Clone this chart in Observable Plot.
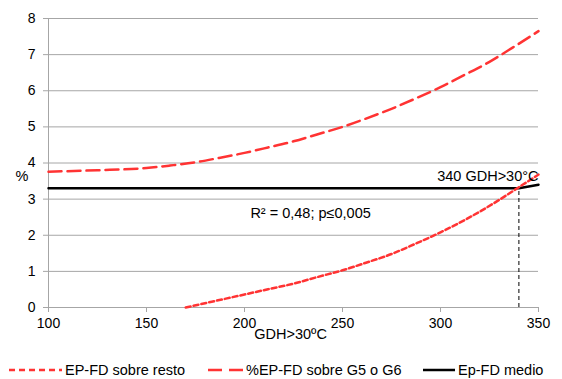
<!DOCTYPE html>
<html>
<head>
<meta charset="utf-8">
<script src="https://cdn.jsdelivr.net/npm/d3@7"></script>
<script src="https://cdn.jsdelivr.net/npm/@observablehq/plot@0.6"></script>
<style>
  html, body { margin: 0; padding: 0; background: #fff; }
  body { width: 562px; font-family: "Liberation Sans", Arial, sans-serif; }
  #legend { position: relative; height: 29px; font-size: 14.5px; color: #000; }
  .item { position: absolute; top: 0; height: 29px; display: flex; align-items: center; padding-top: 10px; box-sizing: border-box; }
  .item svg { display: block; margin-right: 3px; }
</style>
</head>
<body>
<div id="chart"></div>
<div id="legend"></div>
<script>
// Axis ticks
const xTicks = [100, 150, 200, 250, 300, 350];
const yTicks = [0, 1, 2, 3, 4, 5, 6, 7, 8];

// EP-FD sobre resto
const restoX = [170, 185, 200, 212, 225, 237, 250, 262, 275, 287, 300, 315, 330, 340, 350];
const restoY = [0.0, 0.18, 0.36, 0.505, 0.66, 0.84, 1.03, 1.24, 1.48, 1.76, 2.08, 2.5, 2.98, 3.33, 3.68];

// %EP-FD sobre G5 o G6
const g56X = [100, 125, 150, 162, 175, 187, 200, 212, 225, 237, 250, 262, 275, 287, 300, 312, 325, 337, 350];
const g56Y = [3.76, 3.8, 3.86, 3.93, 4.02, 4.14, 4.28, 4.43, 4.6, 4.79, 5.0, 5.23, 5.5, 5.78, 6.1, 6.43, 6.8, 7.2, 7.65];

// Ep-FD medio
const medioX = [100, 340, 350];
const medioY = [3.3, 3.3, 3.4];

// Threshold where the resto curve reaches the mean
const umbral = 340;
const umbralY = 3.33;

const labels = {
  x: "GDH>30ºC",
  y: "%",
  umbral: "340 GDH>30°C",
  ajuste: "R² = 0,48; p≤0,005",
  resto: "EP-FD sobre resto",
  g56: "%EP-FD sobre G5 o G6",
  medio: "Ep-FD medio"
};

const red = "#ff3333";
const grid = "#a6a6a6";
const font = "'Liberation Sans', Arial, sans-serif";

const resto = restoX.map((x, i) => ({x, y: restoY[i]}));
const g56 = g56X.map((x, i) => ({x, y: g56Y[i]}));
const medio = medioX.map((x, i) => ({x, y: medioY[i]}));

const chart = Plot.plot({
  width: 562,
  height: 350,
  marginLeft: 48,
  marginRight: 24,
  marginTop: 18,
  marginBottom: 43,
  style: { fontFamily: font, fontSize: "14px", color: "#000", background: "#fff" },
  x: { domain: [100, 350], ticks: xTicks },
  y: { domain: [0, 8], ticks: yTicks },
  marks: [
    Plot.gridY(yTicks, { stroke: grid, strokeOpacity: 1, strokeWidth: 1 }),
    Plot.ruleX([100], { y1: 0, y2: 8, stroke: grid, strokeWidth: 1 }),
    Plot.axisY({ ticks: yTicks, tickSize: 5, tickPadding: 8, stroke: grid, fill: "#000", label: null, fontSize: 14 }),
    Plot.axisX({ ticks: xTicks, tickSize: 5, tickPadding: 6, stroke: grid, fill: "#000", label: null, fontSize: 14 }),
    Plot.text([labels.x], { x: 223.5, frameAnchor: "bottom", dy: 31, text: d => d, textAnchor: "middle", fontSize: 14.5, fill: "#000" }),
    Plot.text([labels.y], { y: 3.63, frameAnchor: "left", dx: -33, text: d => d, textAnchor: "start", fontSize: 14.5, fill: "#000" }),
    Plot.ruleX([umbral], { y1: 0, y2: umbralY, stroke: "#000", strokeWidth: 1, strokeDasharray: "4,3" }),
    Plot.line(medio, { x: "x", y: "y", stroke: "#000", strokeWidth: 2.5 }),
    Plot.line(g56, { x: "x", y: "y", curve: "monotone-x", stroke: red, strokeWidth: 2.5, strokeDasharray: "13,6" }),
    Plot.line(resto, { x: "x", y: "y", curve: "monotone-x", stroke: red, strokeWidth: 2.5, strokeDasharray: "5,3" }),
    Plot.text([labels.umbral], { x: 350, y: 3.63, text: d => d, textAnchor: "end", fontSize: 14.5, fill: "#000" }),
    Plot.text([labels.ajuste], { x: 203, y: 2.6, text: d => d, textAnchor: "start", fontSize: 14.5, fill: "#000" })
  ]
});
document.getElementById("chart").appendChild(chart);

// Legend below the chart
const legendItems = [
  { label: labels.resto, left: 9, w: 53, stroke: red, dash: "6,4", sw: 2.5 },
  { label: labels.g56, left: 208, w: 35, stroke: red, dash: "14,7", sw: 2.5 },
  { label: labels.medio, left: 423, w: 32, stroke: "#000", dash: null, sw: 2.5 }
];
const legend = document.getElementById("legend");
for (const it of legendItems) {
  const div = document.createElement("div");
  div.className = "item";
  div.style.left = it.left + "px";
  div.innerHTML = `<svg width="${it.w}" height="6"><line x1="0" x2="${it.w}" y1="3" y2="3" stroke="${it.stroke}" stroke-width="${it.sw}" ${it.dash ? `stroke-dasharray="${it.dash}"` : ""}/></svg><span>${it.label}</span>`;
  legend.appendChild(div);
}
</script>
</body>
</html>
